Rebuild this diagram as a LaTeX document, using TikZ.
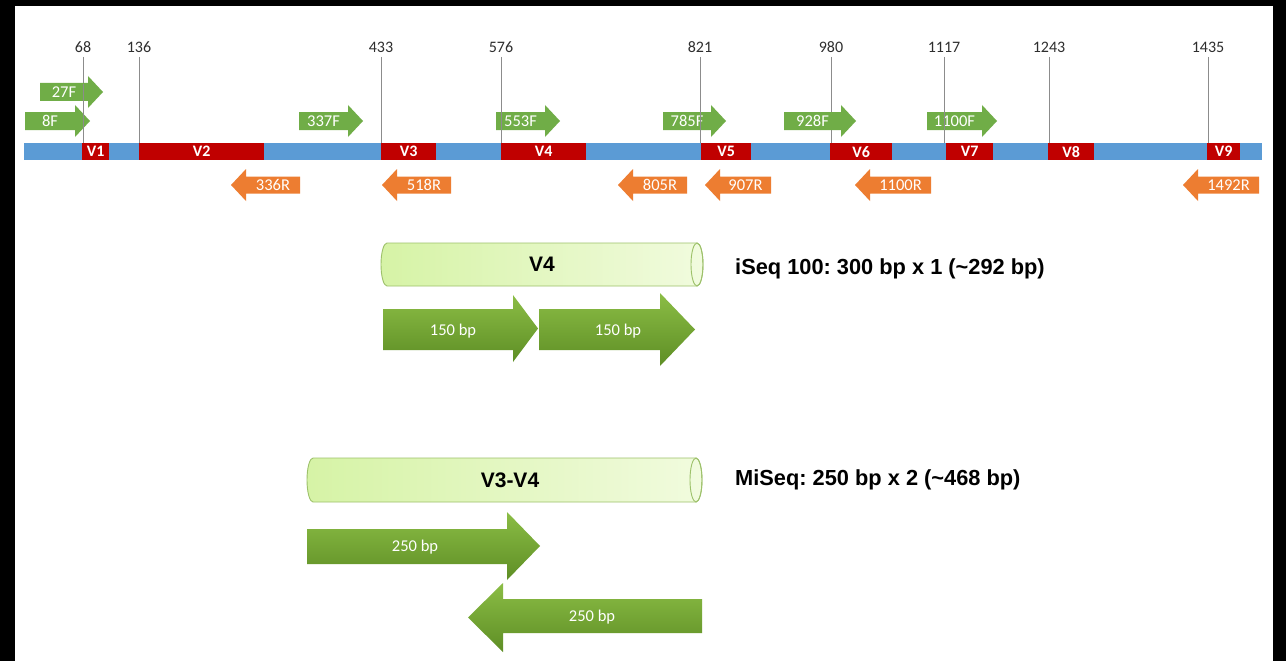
\documentclass[tikz,border=0pt]{standalone}
\usepackage{fontspec}
\newfontfamily\calfont{Carlito}
\newfontfamily\arfont{Liberation Sans}
\definecolor{vblue}{HTML}{5B9BD5}
\definecolor{vred}{HTML}{C00000}
\definecolor{pgreen}{HTML}{70AD47}
\definecolor{porange}{HTML}{ED7D31}
\definecolor{tickgray}{HTML}{8C8C8C}
\definecolor{ticktext}{HTML}{2E2E2E}
\definecolor{cylborder}{HTML}{9DC16A}
\definecolor{cylL}{HTML}{D6F3A6}
\definecolor{cylR}{HTML}{F1FBDE}
\definecolor{bigtop}{HTML}{8BBD45}
\definecolor{bigbot}{HTML}{5E8E25}
\tikzset{
  tickline/.style={draw=tickgray, line width=0.9pt},
  ticklbl/.style={font=\calfont\fontsize{16}{18}\selectfont, text=ticktext, inner sep=0pt},
  regbox/.style={fill=vred, anchor=north west, minimum height=17pt, inner sep=0pt,
    font=\calfont\bfseries\fontsize{16}{18}\selectfont, text=white},
  fprim/.style={fill=pgreen},
  rprim/.style={fill=porange},
  primlbl/.style={font=\calfont\fontsize{16.5}{18}\selectfont, text=white, inner sep=0pt},
  cylshape/.style={left color=cylL, right color=cylR, draw=cylborder, line width=0.9pt},
  cyllbl/.style={font=\arfont\bfseries\fontsize{21}{24}\selectfont, text=black, inner sep=0pt},
  bigarrow/.style={top color=bigtop, bottom color=bigbot},
  biglbl/.style={font=\calfont\fontsize{16.5}{19}\selectfont, text=white, inner sep=0pt},
  infolbl/.style={font=\arfont\bfseries\fontsize{21.8}{24}\selectfont\frenchspacing, text=black, inner sep=0pt, anchor=west}
}
% forward primer: name, xl, xr, ymid, label
\newcommand\fprimer[5]{%
  \fill[fprim] (#2,#4-9) -- (#3-15,#4-9) -- (#3-15,#4-16) -- (#3,#4) -- (#3-15,#4+16) -- (#3-15,#4+9) -- (#2,#4+9) -- cycle;
  \node[primlbl] (#1) at ({(#2+#3-15)/2},#4) {#5};}
% reverse primer: name, xl (tip), xr, ymid, label
\newcommand\rprimer[5]{%
  \fill[rprim] (#3,#4-8.5) -- (#2+15,#4-8.5) -- (#2+15,#4-16) -- (#2,#4) -- (#2+15,#4+16) -- (#2+15,#4+8.5) -- (#3,#4+8.5) -- cycle;
  \node[primlbl] (#1) at ({(#2+15+#3)/2},#4) {#5};}
% tick: name, x, label
\newcommand\tickmark[3]{%
  \node[ticklbl] (#1) at (#2,47) {#3};
  \draw[tickline] (#2,57) -- (#2,143);}
% cylinder: L, R, T, B
\newcommand\cylinder[4]{%
  \shadedraw[cylshape] (#1+6,#3) -- (#2-6,#3) arc[start angle=90, end angle=-90, x radius=6pt, y radius={(#4-#3)/2*1pt}]
     -- (#1+6,#4) arc[start angle=270, end angle=90, x radius=6pt, y radius={(#4-#3)/2*1pt}] -- cycle;
  \draw[cylborder, line width=0.9pt] (#2-6,{(#3+#4)/2}) ellipse [x radius=6pt, y radius={(#4-#3)/2*1pt}];}
\begin{document}
\begin{tikzpicture}[x=1pt,y=-1pt]
\fill[black] (0,0) rectangle (1286,661);
\fill[white] (15,6) rectangle (1273,661);
\useasboundingbox (0,0) rectangle (1286,661);

% ticks
\tickmark{t68}{83}{68}
\tickmark{t136}{139}{136}
\tickmark{t433}{381}{433}
\tickmark{t576}{501}{576}
\tickmark{t821}{700}{821}
\tickmark{t980}{831}{980}
\tickmark{t1117}{944}{1117}
\tickmark{t1243}{1049}{1243}
\tickmark{t1435}{1208}{1435}

% gene bar
\fill[vblue] (24,143) rectangle (1262,160);
\node[regbox, minimum width=27pt] (V1) at (82,143) {V1};
\node[regbox, minimum width=125pt] (V2) at (139,143) {V2};
\node[regbox, minimum width=55pt] (V3) at (381,143) {V3};
\node[regbox, minimum width=85pt] (V4) at (501,143) {V4};
\node[regbox, minimum width=50pt] (V5) at (701,143) {V5};
\node[regbox, minimum width=62pt] (V6) at (830,143) {V6};
\node[regbox, minimum width=47pt] (V7) at (946,143) {V7};
\node[regbox, minimum width=46pt] (V8) at (1048,143) {V8};
\node[regbox, minimum width=33pt] (V9) at (1207,143) {V9};

% forward primers
\fprimer{p27F}{40}{103}{92}{27F}
\fprimer{p8F}{25}{90}{121}{8F}
\fprimer{p337F}{299}{363}{121}{337F}
\fprimer{p553F}{496}{560}{121}{553F}
\fprimer{p785F}{663}{726}{121}{785F}
\fprimer{p928F}{784}{856}{121}{928F}
\fprimer{p1100F}{927}{997}{121}{1100F}
\draw[tickline] (83,84) -- (83,143);
\draw[tickline] (501,112) -- (501,143);
\draw[tickline] (700,112) -- (700,143);
\draw[tickline] (944,112) -- (944,143);

% reverse primers
\rprimer{p336R}{231}{300}{185}{336R}
\rprimer{p518R}{382}{451}{185}{518R}
\rprimer{p805R}{618}{687}{185}{805R}
\rprimer{p907R}{705}{771}{185}{907R}
\rprimer{p1100R}{855}{931}{185}{1100R}
\rprimer{p1492R}{1183}{1259}{185}{1492R}

% iSeq V4
\cylinder{381}{703}{243}{286}
\node[cyllbl] (cV4) at (542,264) {V4};
\shade[bigarrow] (383,309) -- (513,309) -- (513,295) -- (538,328.5) -- (513,362) -- (513,350) -- (383,350) -- cycle;
\shade[bigarrow] (539,309) -- (660,309) -- (660,293) -- (695,329.5) -- (660,366) -- (660,350) -- (539,350) -- cycle;
\node[biglbl] (r1) at (453,331) {150 bp};
\node[biglbl] (r2) at (618,331) {150 bp};
\node[infolbl] (iseq) at (735,269) {iSeq 100: 300 bp x 1 (\textasciitilde292 bp)};

% MiSeq V3-V4
\cylinder{307}{702}{458}{502}
\node[cyllbl] (cV34) at (510,480) {V3-V4};
\shade[bigarrow] (307,529) -- (507,529) -- (507,512) -- (540,546) -- (507,580) -- (507,564) -- (307,564) -- cycle;
\shade[bigarrow] (702,599) -- (503,599) -- (503,583) -- (468,617.5) -- (503,652) -- (503,633) -- (702,633) -- cycle;
\node[biglbl] (r3) at (415,547) {250 bp};
\node[biglbl] (r4) at (592,617) {250 bp};
\node[infolbl] (miseq) at (735,480) {MiSeq: 250 bp x 2 (\textasciitilde468 bp)};
\end{tikzpicture}
\end{document}
